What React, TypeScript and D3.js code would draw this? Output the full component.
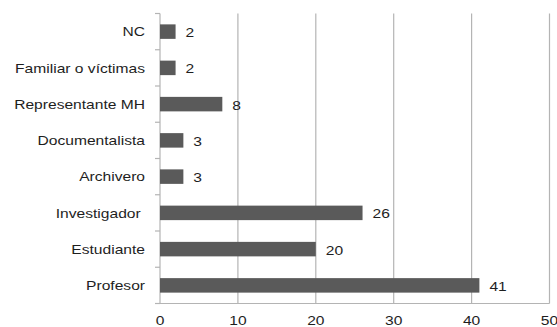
import React from "react";
import * as d3 from "d3";

// Respondent profiles, listed top to bottom as drawn
const categories = [
  "NC",
  "Familiar o víctimas",
  "Representante MH",
  "Documentalista",
  "Archivero",
  "Investigador ",
  "Estudiante",
  "Profesor",
];
const counts = [2, 2, 8, 3, 3, 26, 20, 41];
const xTicks = [0, 10, 20, 30, 40, 50];

const W = 557;
const H = 327;
const plot = { left: 160, right: 549.5, top: 13.5, bottom: 303.5 };

const FONT = "'Liberation Sans', Arial, sans-serif";
const STRETCH = 1.2;

export default function App() {
  const x = d3.scaleLinear().domain([0, 50]).range([plot.left, plot.right]);
  const y = d3
    .scaleBand<string>()
    .domain(categories)
    .range([plot.top, plot.bottom])
    .paddingInner(0.6)
    .paddingOuter(0.3);
  const step = y.step();
  const boundaries = d3.range(categories.length + 1).map((i) => plot.top + i * step);
  const grid = "#b4b4b4";

  return (
    <svg
      width={W}
      height={H}
      style={{ position: "absolute", left: 0, top: 0, background: "#fff" }}
      fontFamily={FONT}
    >
      {/* vertical gridlines */}
      {xTicks.slice(1).map((t) => (
        <line
          key={"g" + t}
          x1={x(t)}
          x2={x(t)}
          y1={plot.top}
          y2={plot.bottom}
          stroke={grid}
          strokeWidth={1.2}
        />
      ))}
      {/* axes */}
      <line x1={plot.left} x2={plot.left} y1={plot.top} y2={plot.bottom} stroke={grid} strokeWidth={1.2} />
      <line x1={plot.left} x2={plot.right} y1={plot.bottom} y2={plot.bottom} stroke={grid} strokeWidth={1.2} />
      {boundaries.map((b, i) => (
        <line key={"t" + i} x1={plot.left - 5} x2={plot.left} y1={b} y2={b} stroke={grid} strokeWidth={1.2} />
      ))}

      {/* bars */}
      {categories.map((c, i) => (
        <rect
          key={"b" + c}
          x={x(0)}
          y={y(c)!}
          width={x(counts[i]) - x(0)}
          height={y.bandwidth()}
          fill="#5a5a5a"
        />
      ))}

      {/* value labels */}
      {categories.map((c, i) => (
        <text
          key={"v" + c}
          transform={`translate(${x(counts[i]) + 10},${y(c)! + y.bandwidth() / 2 + 5.5}) scale(${STRETCH},1)`}
          fontSize={13}
          fill="#1e1e1e"
        >
          {counts[i]}
        </text>
      ))}

      {/* category labels */}
      {categories.map((c) => (
        <text
          key={"c" + c}
          transform={`translate(145,${y(c)! + y.bandwidth() / 2 + 4.8}) scale(${STRETCH},1)`}
          fontSize={13}
          textAnchor="end"
          fill="#1e1e1e"
          style={{ whiteSpace: "pre" }}
        >
          {c}
        </text>
      ))}

      {/* x tick labels */}
      {xTicks.map((t) => (
        <text
          key={"x" + t}
          transform={`translate(${x(t)},325) scale(${STRETCH},1)`}
          fontSize={13}
          textAnchor="middle"
          fill="#1e1e1e"
        >
          {t}
        </text>
      ))}
    </svg>
  );
}
